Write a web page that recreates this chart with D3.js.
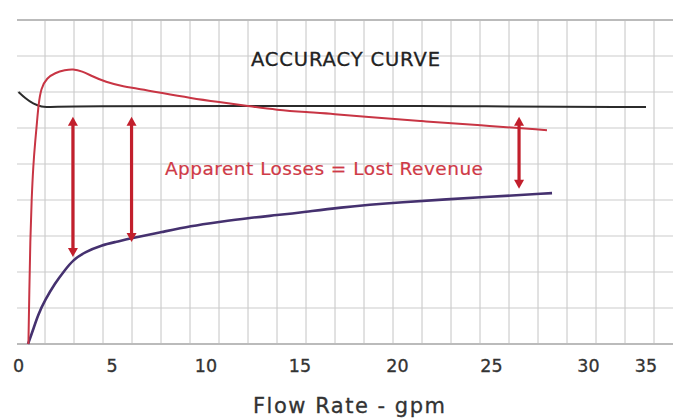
<!DOCTYPE html>
<html>
<head>
<meta charset="utf-8">
<script src="https://cdn.jsdelivr.net/npm/d3@7"></script>
<style>
  html, body { margin: 0; padding: 0; background: #fff; }
  svg { display: block; }
</style>
</head>
<body>
<svg id="chart" width="673" height="419"></svg>
<script>
// ---- data (flow rate in gpm, level in grid units 0..9) ----
const xTicks = [0, 5, 10, 15, 20, 25, 30, 35];
const gridLevels = [0, 1, 2, 3, 4, 5, 6, 7, 8, 9];

const accuracyFlow  = [0, 0.35, 0.78, 1.26, 1.58, 2.49, 15, 23.3, 35];
const accuracyLevel = [7.0, 6.83, 6.67, 6.58, 6.58, 6.61, 6.61, 6.61, 6.58];

const meterAFlow  = [0.53, 0.58, 0.63, 0.70, 0.79, 0.90, 0.99, 1.07, 1.20, 1.52, 1.95, 2.49, 2.91, 3.40, 3.93, 4.63, 5.69, 6.22, 7.66, 9.20, 10.69, 12.23, 13.78, 15.31, 16.79, 18.28, 21.30, 24.34, 27.86];
const meterALevel = [0, 1.5, 2.89, 4.0, 4.97, 5.67, 6.17, 6.64, 7.11, 7.39, 7.53, 7.61, 7.64, 7.58, 7.44, 7.28, 7.14, 7.11, 6.97, 6.83, 6.72, 6.61, 6.5, 6.44, 6.39, 6.31, 6.19, 6.08, 5.94];

const meterBFlow  = [0.51, 0.78, 1.04, 1.42, 1.95, 2.49, 2.91, 3.56, 4.47, 5.16, 6.06, 7.66, 9.20, 10.69, 12.23, 13.78, 15.31, 16.79, 20.13, 24.55, 28.12];
const meterBLevel = [0, 0.39, 0.81, 1.22, 1.69, 2.06, 2.33, 2.56, 2.75, 2.83, 2.94, 3.11, 3.28, 3.39, 3.5, 3.58, 3.67, 3.78, 3.94, 4.08, 4.19];

const arrowFlow   = [2.91, 6.04, 26.42];
const arrowTop    = [6.31, 6.31, 6.31];
const arrowBottom = [2.42, 2.83, 4.31];

const titleText  = "ACCURACY CURVE";
const lossText   = "Apparent Losses = Lost Revenue";
const xAxisTitle = "Flow Rate - gpm";

// ---- layout ----
const svg = d3.select("#chart");
const plotLeft = 17, plotRight = 673, plotTop = 20, plotBottom = 344;
const font = "DejaVu Sans, sans-serif";

const x = d3.scaleLinear()
  .domain(xTicks)
  .range([18.5, 112, 206, 300, 397.5, 491.5, 588.5, 646]);
const y = d3.scaleLinear().domain([0, 9]).range([plotBottom, plotTop]);

// vertical grid columns (layout only)
const gridCols = d3.range(22);
const gx = d3.scaleLinear().domain([0, 21]).range([45, 654]);

const grid = svg.append("g");
grid.selectAll("line.v").data(gridCols).join("line")
  .attr("x1", d => gx(d)).attr("x2", d => gx(d))
  .attr("y1", plotTop).attr("y2", plotBottom)
  .attr("stroke", "#c4c4c4").attr("stroke-width", 1);
grid.selectAll("line.h").data(gridLevels).join("line")
  .attr("x1", plotLeft).attr("x2", plotRight)
  .attr("y1", d => y(d)).attr("y2", d => y(d))
  .attr("stroke", d => (d === 0 || d === 9) ? "#bbbbbb" : "#cbcbcb")
  .attr("stroke-width", d => (d === 0 || d === 9) ? 2 : 1.2);

// x axis tick labels
svg.append("g").selectAll("text").data(xTicks).join("text")
  .attr("x", d => x(d)).attr("y", 372)
  .attr("text-anchor", "middle")
  .attr("font-family", font)
  .attr("font-size", 17.5)
  .attr("fill", "#333").attr("stroke", "#333").attr("stroke-width", 0.3)
  .text(d => d);

svg.append("text")
  .attr("x", 253).attr("y", 413)
  .attr("font-family", font)
  .attr("font-size", 21)
  .attr("fill", "#333").attr("stroke", "#333").attr("stroke-width", 0.3)
  .attr("textLength", 192).attr("lengthAdjust", "spacing")
  .text(xAxisTitle);

// curves
const line = d3.line().x(d => x(d[0])).y(d => y(d[1])).curve(d3.curveBasis);

svg.append("path")
  .datum(d3.zip(meterBFlow, meterBLevel))
  .attr("d", line).attr("fill", "none")
  .attr("stroke", "#45316f").attr("stroke-width", 2.6);

svg.append("path")
  .datum(d3.zip(accuracyFlow, accuracyLevel))
  .attr("d", line).attr("fill", "none")
  .attr("stroke", "#2b2b2b").attr("stroke-width", 2);

svg.append("path")
  .datum(d3.zip(meterAFlow, meterALevel))
  .attr("d", line).attr("fill", "none")
  .attr("stroke", "#c83544").attr("stroke-width", 2);

// double arrows
const arrowColor = "#c21f2c";
const headLen = 9, headHalf = 5;
const arrows = svg.append("g");
arrowFlow.forEach((f, i) => {
  const ax = x(f), yt = y(arrowTop[i]), yb = y(arrowBottom[i]);
  arrows.append("line")
    .attr("x1", ax).attr("x2", ax)
    .attr("y1", yt + headLen - 1).attr("y2", yb - headLen + 1)
    .attr("stroke", arrowColor).attr("stroke-width", 3.2);
  arrows.append("path")
    .attr("d", `M${ax},${yt} L${ax + headHalf},${yt + headLen} L${ax - headHalf},${yt + headLen} Z`)
    .attr("fill", arrowColor);
  arrows.append("path")
    .attr("d", `M${ax},${yb} L${ax + headHalf},${yb - headLen} L${ax - headHalf},${yb - headLen} Z`)
    .attr("fill", arrowColor);
});

// labels
svg.append("text")
  .attr("x", 251).attr("y", 66)
  .attr("font-family", font)
  .attr("font-size", 19.5)
  .attr("fill", "#222").attr("stroke", "#222").attr("stroke-width", 0.3)
  .attr("textLength", 189).attr("lengthAdjust", "spacing")
  .text(titleText);

svg.append("text")
  .attr("x", 165).attr("y", 175)
  .attr("font-family", font)
  .attr("font-size", 18.5)
  .attr("fill", "#cf3a47").attr("stroke", "#cf3a47").attr("stroke-width", 0.2)
  .attr("textLength", 318).attr("lengthAdjust", "spacing")
  .text(lossText);
</script>
</body>
</html>
